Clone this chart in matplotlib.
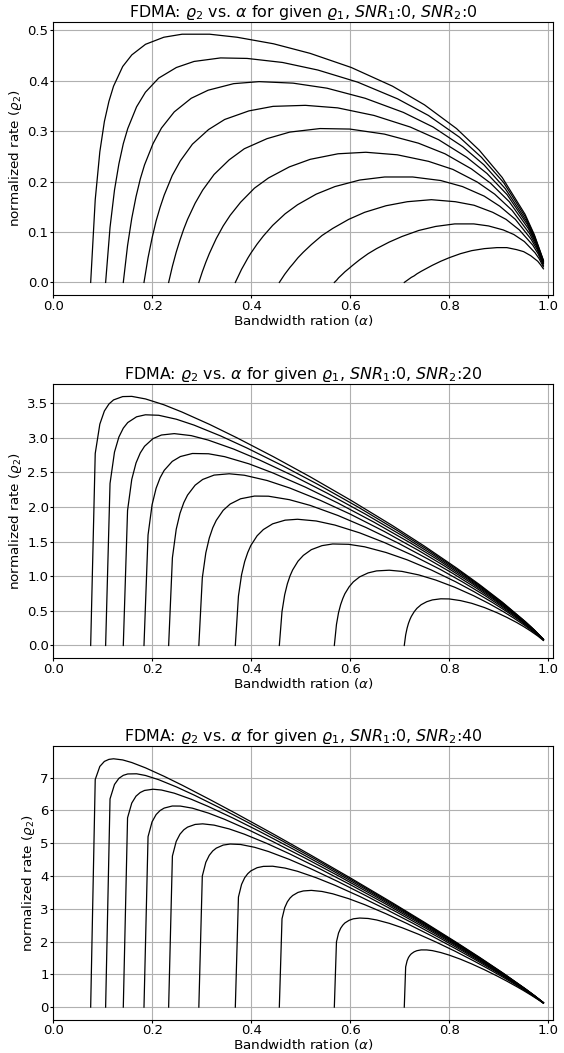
import matplotlib
matplotlib.use("Agg")
import matplotlib.pyplot as plt

# bandwidth ratio samples, one list per given rho_1 curve
alpha = [
    [0.0755, 0.0847, 0.0940, 0.1032, 0.1124, 0.1217, 0.1402, 0.1586, 0.1863, 0.2233, 0.2602, 0.3157,
     0.3711, 0.4450, 0.5189, 0.6020, 0.6852, 0.7498, 0.8145, 0.8606, 0.9068, 0.9530, 0.9715, 0.99],
    [0.1057, 0.1146, 0.1236, 0.1325, 0.1414, 0.1504, 0.1682, 0.1861, 0.2129, 0.2486, 0.2843, 0.3379,
     0.3915, 0.4630, 0.5344, 0.6148, 0.6952, 0.7577, 0.8203, 0.8649, 0.9096, 0.9542, 0.9721, 0.99],
    [0.1414, 0.1500, 0.1585, 0.1671, 0.1757, 0.1843, 0.2014, 0.2185, 0.2443, 0.2786, 0.3128, 0.3643,
     0.4157, 0.4843, 0.5529, 0.6300, 0.7072, 0.7672, 0.8272, 0.8700, 0.9129, 0.9557, 0.9729, 0.99],
    [0.1832, 0.1914, 0.1995, 0.2077, 0.2158, 0.2240, 0.2403, 0.2567, 0.2810, 0.3136, 0.3462, 0.3951,
     0.4440, 0.5092, 0.5744, 0.6478, 0.7211, 0.7782, 0.8352, 0.8760, 0.9167, 0.9575, 0.9737, 0.99],
    [0.2330, 0.2406, 0.2483, 0.2559, 0.2636, 0.2712, 0.2865, 0.3018, 0.3248, 0.3553, 0.3859, 0.4318,
     0.4777, 0.5388, 0.5990, 0.6688, 0.7376, 0.7912, 0.8447, 0.8829, 0.9211, 0.9594, 0.9747, 0.99],
    [0.2940, 0.3010, 0.3081, 0.3151, 0.3221, 0.3292, 0.3432, 0.3573, 0.3784, 0.4065, 0.4346, 0.4768,
     0.5190, 0.5752, 0.6314, 0.6947, 0.7580, 0.8072, 0.8564, 0.8916, 0.9267, 0.9619, 0.9759, 0.99],
    [0.3677, 0.3740, 0.3803, 0.3866, 0.3928, 0.3991, 0.4117, 0.4243, 0.4431, 0.4683, 0.4934, 0.5311,
     0.5689, 0.6191, 0.6694, 0.7260, 0.7826, 0.8266, 0.8706, 0.9020, 0.9334, 0.9649, 0.9774, 0.99],
    [0.4566, 0.4620, 0.4674, 0.4728, 0.4782, 0.4835, 0.4943, 0.5051, 0.5213, 0.5428, 0.5644, 0.5967,
     0.6290, 0.6721, 0.7152, 0.7637, 0.8122, 0.8499, 0.8876, 0.9146, 0.9415, 0.9685, 0.9792, 0.99],
    [0.5677, 0.5720, 0.5762, 0.5805, 0.5848, 0.5890, 0.5976, 0.6061, 0.6189, 0.6360, 0.6530, 0.6786,
     0.7042, 0.7383, 0.7725, 0.8109, 0.8493, 0.8791, 0.9090, 0.9303, 0.9516, 0.9730, 0.9815, 0.99],
    [0.7090, 0.7118, 0.7147, 0.7175, 0.7204, 0.7232, 0.7289, 0.7345, 0.7431, 0.7544, 0.7658, 0.7828,
     0.7998, 0.8225, 0.8452, 0.8708, 0.8963, 0.9162, 0.9360, 0.9502, 0.9644, 0.9786, 0.9843, 0.99],
]

# normalized rate rho_2 for SNR_2 = 0
rate_snr0 = [
    [0, 0.164, 0.259, 0.319, 0.359, 0.389, 0.428, 0.451, 0.472, 0.486, 0.492, 0.492,
     0.486, 0.473, 0.454, 0.426, 0.389, 0.352, 0.305, 0.262, 0.208, 0.135, 0.095, 0.044],
    [0, 0.109, 0.183, 0.235, 0.275, 0.305, 0.348, 0.377, 0.405, 0.426, 0.438, 0.445,
     0.444, 0.436, 0.421, 0.397, 0.364, 0.331, 0.288, 0.248, 0.198, 0.129, 0.092, 0.043],
    [0, 0.073, 0.127, 0.170, 0.205, 0.233, 0.275, 0.306, 0.338, 0.365, 0.381, 0.394,
     0.398, 0.395, 0.385, 0.365, 0.337, 0.308, 0.269, 0.233, 0.186, 0.122, 0.087, 0.042],
    [0, 0.049, 0.088, 0.122, 0.149, 0.173, 0.212, 0.241, 0.274, 0.303, 0.323, 0.340,
     0.349, 0.351, 0.346, 0.331, 0.308, 0.283, 0.248, 0.216, 0.174, 0.115, 0.083, 0.041],
    [0, 0.032, 0.060, 0.084, 0.106, 0.125, 0.157, 0.183, 0.214, 0.243, 0.265, 0.285,
     0.298, 0.305, 0.304, 0.294, 0.276, 0.255, 0.225, 0.197, 0.160, 0.107, 0.078, 0.040],
    [0, 0.021, 0.040, 0.057, 0.072, 0.087, 0.112, 0.133, 0.159, 0.187, 0.207, 0.229,
     0.244, 0.255, 0.258, 0.253, 0.240, 0.224, 0.199, 0.175, 0.143, 0.097, 0.072, 0.038],
    [0, 0.013, 0.026, 0.037, 0.048, 0.058, 0.076, 0.092, 0.113, 0.136, 0.154, 0.175,
     0.190, 0.203, 0.209, 0.209, 0.202, 0.190, 0.171, 0.151, 0.125, 0.086, 0.065, 0.037],
    [0, 0.008, 0.016, 0.023, 0.030, 0.036, 0.049, 0.060, 0.075, 0.093, 0.107, 0.125,
     0.139, 0.152, 0.160, 0.164, 0.160, 0.153, 0.139, 0.125, 0.104, 0.074, 0.057, 0.034],
    [0, 0.004, 0.009, 0.013, 0.017, 0.021, 0.028, 0.035, 0.045, 0.057, 0.067, 0.080,
     0.091, 0.103, 0.111, 0.116, 0.116, 0.112, 0.104, 0.095, 0.081, 0.059, 0.047, 0.031],
    [0, 0.002, 0.004, 0.006, 0.008, 0.010, 0.013, 0.017, 0.022, 0.028, 0.034, 0.042,
     0.049, 0.057, 0.063, 0.067, 0.069, 0.069, 0.065, 0.061, 0.053, 0.042, 0.035, 0.027],
]

# SNR_2 = 20
rate_snr20 = [
    [0, 2.773, 3.197, 3.387, 3.488, 3.547, 3.595, 3.598, 3.561, 3.477, 3.371, 3.193,
     2.999, 2.725, 2.436, 2.093, 1.731, 1.434, 1.119, 0.881, 0.627, 0.348, 0.226, 0.090],
    [0, 2.340, 2.793, 3.011, 3.139, 3.220, 3.303, 3.332, 3.325, 3.268, 3.183, 3.027,
     2.851, 2.597, 2.327, 2.003, 1.659, 1.376, 1.075, 0.847, 0.603, 0.337, 0.219, 0.089],
    [0, 1.950, 2.399, 2.636, 2.781, 2.877, 2.988, 3.040, 3.060, 3.031, 2.967, 2.837,
     2.682, 2.452, 2.201, 1.899, 1.576, 1.308, 1.024, 0.808, 0.577, 0.323, 0.211, 0.088],
    [0, 1.596, 2.031, 2.271, 2.423, 2.529, 2.659, 2.729, 2.773, 2.769, 2.727, 2.624,
     2.491, 2.287, 2.059, 1.781, 1.482, 1.232, 0.966, 0.763, 0.546, 0.308, 0.203, 0.087],
    [0, 1.267, 1.678, 1.908, 2.063, 2.172, 2.315, 2.398, 2.461, 2.480, 2.459, 2.383,
     2.274, 2.098, 1.900, 1.646, 1.373, 1.144, 0.900, 0.712, 0.512, 0.291, 0.193, 0.086],
    [0, 0.975, 1.338, 1.552, 1.700, 1.807, 1.952, 2.043, 2.119, 2.158, 2.156, 2.106,
     2.023, 1.877, 1.705, 1.486, 1.244, 1.040, 0.820, 0.651, 0.470, 0.270, 0.182, 0.084],
    [0, 0.713, 1.021, 1.212, 1.343, 1.445, 1.584, 1.674, 1.757, 1.810, 1.823, 1.798,
     1.739, 1.626, 1.485, 1.301, 1.095, 0.918, 0.727, 0.579, 0.421, 0.245, 0.168, 0.082],
    [0, 0.490, 0.732, 0.890, 1.005, 1.091, 1.217, 1.301, 1.384, 1.442, 1.466, 1.461,
     1.425, 1.343, 1.236, 1.090, 0.922, 0.777, 0.619, 0.496, 0.363, 0.216, 0.151, 0.080],
    [0, 0.303, 0.474, 0.591, 0.678, 0.747, 0.847, 0.919, 0.991, 1.048, 1.077, 1.087,
     1.070, 1.019, 0.945, 0.841, 0.718, 0.609, 0.489, 0.395, 0.293, 0.180, 0.131, 0.077],
    [0, 0.152, 0.250, 0.320, 0.375, 0.419, 0.486, 0.536, 0.589, 0.632, 0.658, 0.674,
     0.672, 0.648, 0.609, 0.548, 0.473, 0.406, 0.332, 0.273, 0.208, 0.137, 0.105, 0.072],
]

# SNR_2 = 40
rate_snr40 = [
    [0, 6.943, 7.343, 7.496, 7.558, 7.576, 7.541, 7.461, 7.299, 7.045, 6.771, 6.337,
     5.890, 5.276, 4.648, 3.924, 3.180, 2.586, 1.973, 1.523, 1.056, 0.565, 0.357, 0.136],
    [0, 6.352, 6.792, 6.979, 7.071, 7.113, 7.118, 7.067, 6.938, 6.718, 6.470, 6.069,
     5.648, 5.066, 4.468, 3.775, 3.062, 2.491, 1.902, 1.469, 1.020, 0.548, 0.348, 0.135],
    [0, 5.775, 6.225, 6.436, 6.548, 6.610, 6.647, 6.623, 6.527, 6.342, 6.123, 5.757,
     5.367, 4.822, 4.257, 3.601, 2.923, 2.380, 1.819, 1.406, 0.978, 0.527, 0.336, 0.134],
    [0, 5.200, 5.652, 5.874, 5.998, 6.072, 6.135, 6.133, 6.069, 5.918, 5.728, 5.402,
     5.046, 4.542, 4.016, 3.401, 2.765, 2.253, 1.725, 1.334, 0.930, 0.503, 0.324, 0.133],
    [0, 4.608, 5.055, 5.276, 5.409, 5.491, 5.573, 5.591, 5.552, 5.436, 5.276, 4.991,
     4.673, 4.217, 3.743, 3.169, 2.580, 2.105, 1.614, 1.251, 0.875, 0.478, 0.310, 0.132],
    [0, 3.997, 4.417, 4.632, 4.764, 4.850, 4.943, 4.975, 4.961, 4.876, 4.747, 4.506,
     4.230, 3.829, 3.399, 2.890, 2.357, 1.927, 1.481, 1.150, 0.807, 0.445, 0.293, 0.130],
    [0, 3.358, 3.744, 3.946, 4.070, 4.156, 4.253, 4.293, 4.298, 4.241, 4.143, 3.947,
     3.717, 3.375, 3.004, 2.561, 2.094, 1.716, 1.322, 1.030, 0.727, 0.406, 0.272, 0.128],
    [0, 2.695, 3.031, 3.211, 3.327, 3.404, 3.499, 3.544, 3.561, 3.528, 3.457, 3.308,
     3.125, 2.848, 2.544, 2.176, 1.786, 1.468, 1.136, 0.889, 0.632, 0.361, 0.247, 0.126],
    [0, 1.988, 2.260, 2.406, 2.500, 2.567, 2.648, 2.694, 2.717, 2.704, 2.659, 2.556,
     2.424, 2.219, 1.989, 1.710, 1.410, 1.165, 0.907, 0.716, 0.516, 0.304, 0.216, 0.123],
    [0, 1.227, 1.412, 1.513, 1.579, 1.626, 1.686, 1.721, 1.745, 1.744, 1.723, 1.664,
     1.586, 1.461, 1.318, 1.141, 0.950, 0.792, 0.626, 0.502, 0.372, 0.235, 0.178, 0.118],
]

snr1 = 0
snr2 = [0, 20, 40]
panels = [rate_snr0, rate_snr20, rate_snr40]

# axes boxes in figure fraction (left, bottom, width, height)
boxes = [
    (0.0945, 0.7200, 0.8865, 0.2593),
    (0.0945, 0.3752, 0.8865, 0.2602),
    (0.0945, 0.0318, 0.8865, 0.2594),
]

fig = plt.figure(figsize=(5.64, 10.53), dpi=100)

for rates, s2, box in zip(panels, snr2, boxes):
    ax = fig.add_axes(box)
    for a, r in zip(alpha, rates):
        ax.plot(a, r, color="k", linewidth=0.9)
    ax.set_xlim(0, 1.01)
    ax.grid(True)
    ax.set_title(r"FDMA: $\varrho_2$ vs. $\alpha$ for given $\varrho_1$, "
                 + r"$SNR_1$:" + str(snr1) + r", $SNR_2$:" + str(s2),
                 fontsize=11.4, pad=2)
    ax.set_xlabel(r"Bandwidth ration ($\alpha$)", fontsize=9.7, labelpad=0)
    ax.set_ylabel(r"normalized rate ($\varrho_2$)", fontsize=9.7, labelpad=2.5)
    ax.tick_params(axis="x", labelsize=9.5, length=2.4, pad=1.0)
    ax.tick_params(axis="y", labelsize=9.5, length=2.4, pad=1.0)

fig.savefig("out.png", dpi=100)
